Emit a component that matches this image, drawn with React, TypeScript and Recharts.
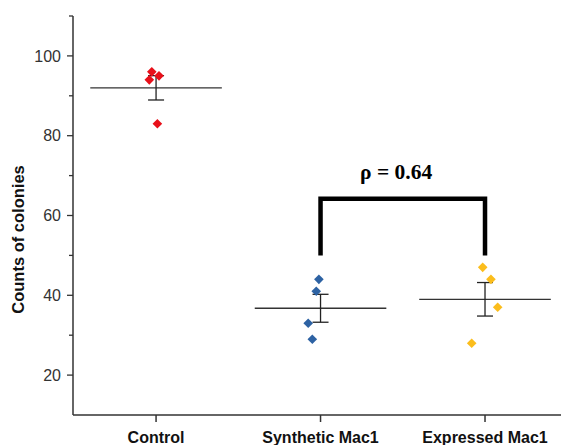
import { ComposedChart, XAxis, YAxis, Scatter, ErrorBar, ReferenceLine, ReferenceDot, Line, Label } from 'recharts'

const categories = ['Control', 'Synthetic Mac1', 'Expressed Mac1']
const colors = ['#e8101a', '#2d62a3', '#fbbd1c']

// colony counts per replicate
const controlCounts = [96, 95, 94, 83]
const syntheticCounts = [44, 41, 33, 29]
const expressedCounts = [47, 44, 37, 28]

// horizontal jitter of each replicate, in category units
const controlJitter = [-0.026, 0.018, -0.041, 0.008]
const syntheticJitter = [-0.01, -0.026, -0.075, -0.05]
const expressedJitter = [-0.014, 0.036, 0.077, -0.081]

const means = [92, 36.75, 39]
const stdErrors = [3.05, 3.5, 4.2]

const yTicks = [20, 30, 40, 50, 60, 70, 80, 90, 100, 110]

const bracket = [
  { x: 1, y: 50 },
  { x: 1, y: 64.2 },
  { x: 2, y: 64.2 },
  { x: 2, y: 50 },
]
const pValue = 'ρ = 0.64'

const sans = '"Liberation Sans", Arial, sans-serif'
const serif = '"Liberation Serif", "Times New Roman", serif'

const groups = [
  { counts: controlCounts, jitter: controlJitter },
  { counts: syntheticCounts, jitter: syntheticJitter },
  { counts: expressedCounts, jitter: expressedJitter },
]

const Diamond = (props: any) => {
  const { cx, cy, fill } = props
  const r = 4.8
  return <path d={`M${cx},${cy - r}L${cx + r},${cy}L${cx},${cy + r}L${cx - r},${cy}Z`} fill={fill} />
}

const NoShape = () => <g />

const YTick = (props: any) => {
  const { x, y, payload } = props
  const major = payload.value % 20 === 0
  return (
    <g>
      <line x1={x - (major ? 6 : 4)} x2={x} y1={y} y2={y} stroke="#333" strokeWidth={1.3} />
      {major && (
        <text x={x - 12} y={y} dy="0.35em" textAnchor="end" fontSize={16} fill="#333" fontFamily={sans}>
          {payload.value}
        </text>
      )}
    </g>
  )
}

const YLabel = (props: any) => {
  const { viewBox } = props
  const cx = viewBox.x + 18
  const cy = viewBox.y + viewBox.height / 2 + 24
  return (
    <text x={cx} y={cy} transform={`rotate(-90 ${cx} ${cy})`} textAnchor="middle" dy="0.35em"
      fontSize={16.5} fontWeight="bold" fill="#111" fontFamily={sans}>
      Counts of colonies
    </text>
  )
}

export default function App() {
  const meanData = means.map((m, i) => ({ x: i, y: m, err: stdErrors[i] }))

  return (
    <div style={{ position: 'absolute', left: 0, top: 0, background: '#fff' }}>
      <ComposedChart width={561} height={445} margin={{ top: 16, right: 0, bottom: 0, left: 0 }}>
        <XAxis
          type="number"
          dataKey="x"
          domain={[-0.505, 2.462]}
          ticks={[0, 1, 2]}
          allowDataOverflow
          tickFormatter={(v) => categories[v]}
          height={30}
          tickSize={7}
          tickMargin={10}
          stroke="#333"
          strokeWidth={1.5}
          tick={{ fontSize: 16, fontWeight: 'bold', fill: '#111', fontFamily: sans }}
        />
        <YAxis
          type="number"
          dataKey="y"
          domain={[10, 110]}
          ticks={yTicks}
          allowDataOverflow
          width={73}
          tickSize={0}
          tickMargin={0}
          tickLine={false}
          stroke="#333"
          strokeWidth={1.5}
          tick={<YTick />}
        >
          <Label content={<YLabel />} />
        </YAxis>

        {means.map((m, i) => (
          <ReferenceLine
            key={'mean' + i}
            segment={[{ x: i - 0.4, y: m }, { x: i + 0.4, y: m }]}
            stroke="#333"
            strokeWidth={1.3}
          />
        ))}

        <Scatter data={meanData} shape={<NoShape />} isAnimationActive={false}>
          <ErrorBar dataKey="err" direction="y" width={8} stroke="#222" strokeWidth={1.3} />
        </Scatter>

        {groups.map((g, gi) => (
          <Scatter
            key={categories[gi]}
            data={g.counts.map((v, i) => ({ x: gi + g.jitter[i], y: v }))}
            fill={colors[gi]}
            shape={<Diamond />}
            isAnimationActive={false}
          />
        ))}

        <Line
          data={bracket}
          dataKey="y"
          stroke="#000"
          strokeWidth={4.5}
          strokeLinejoin="miter"
          dot={false}
          isAnimationActive={false}
        />

        <ReferenceDot x={1.46} y={71} r={0} stroke="none" fill="none">
          <Label
            value={pValue}
            position="center"
            fontSize={21.5}
            fontWeight="bold"
            fill="#000"
            fontFamily={serif}
          />
        </ReferenceDot>
      </ComposedChart>
    </div>
  )
}
